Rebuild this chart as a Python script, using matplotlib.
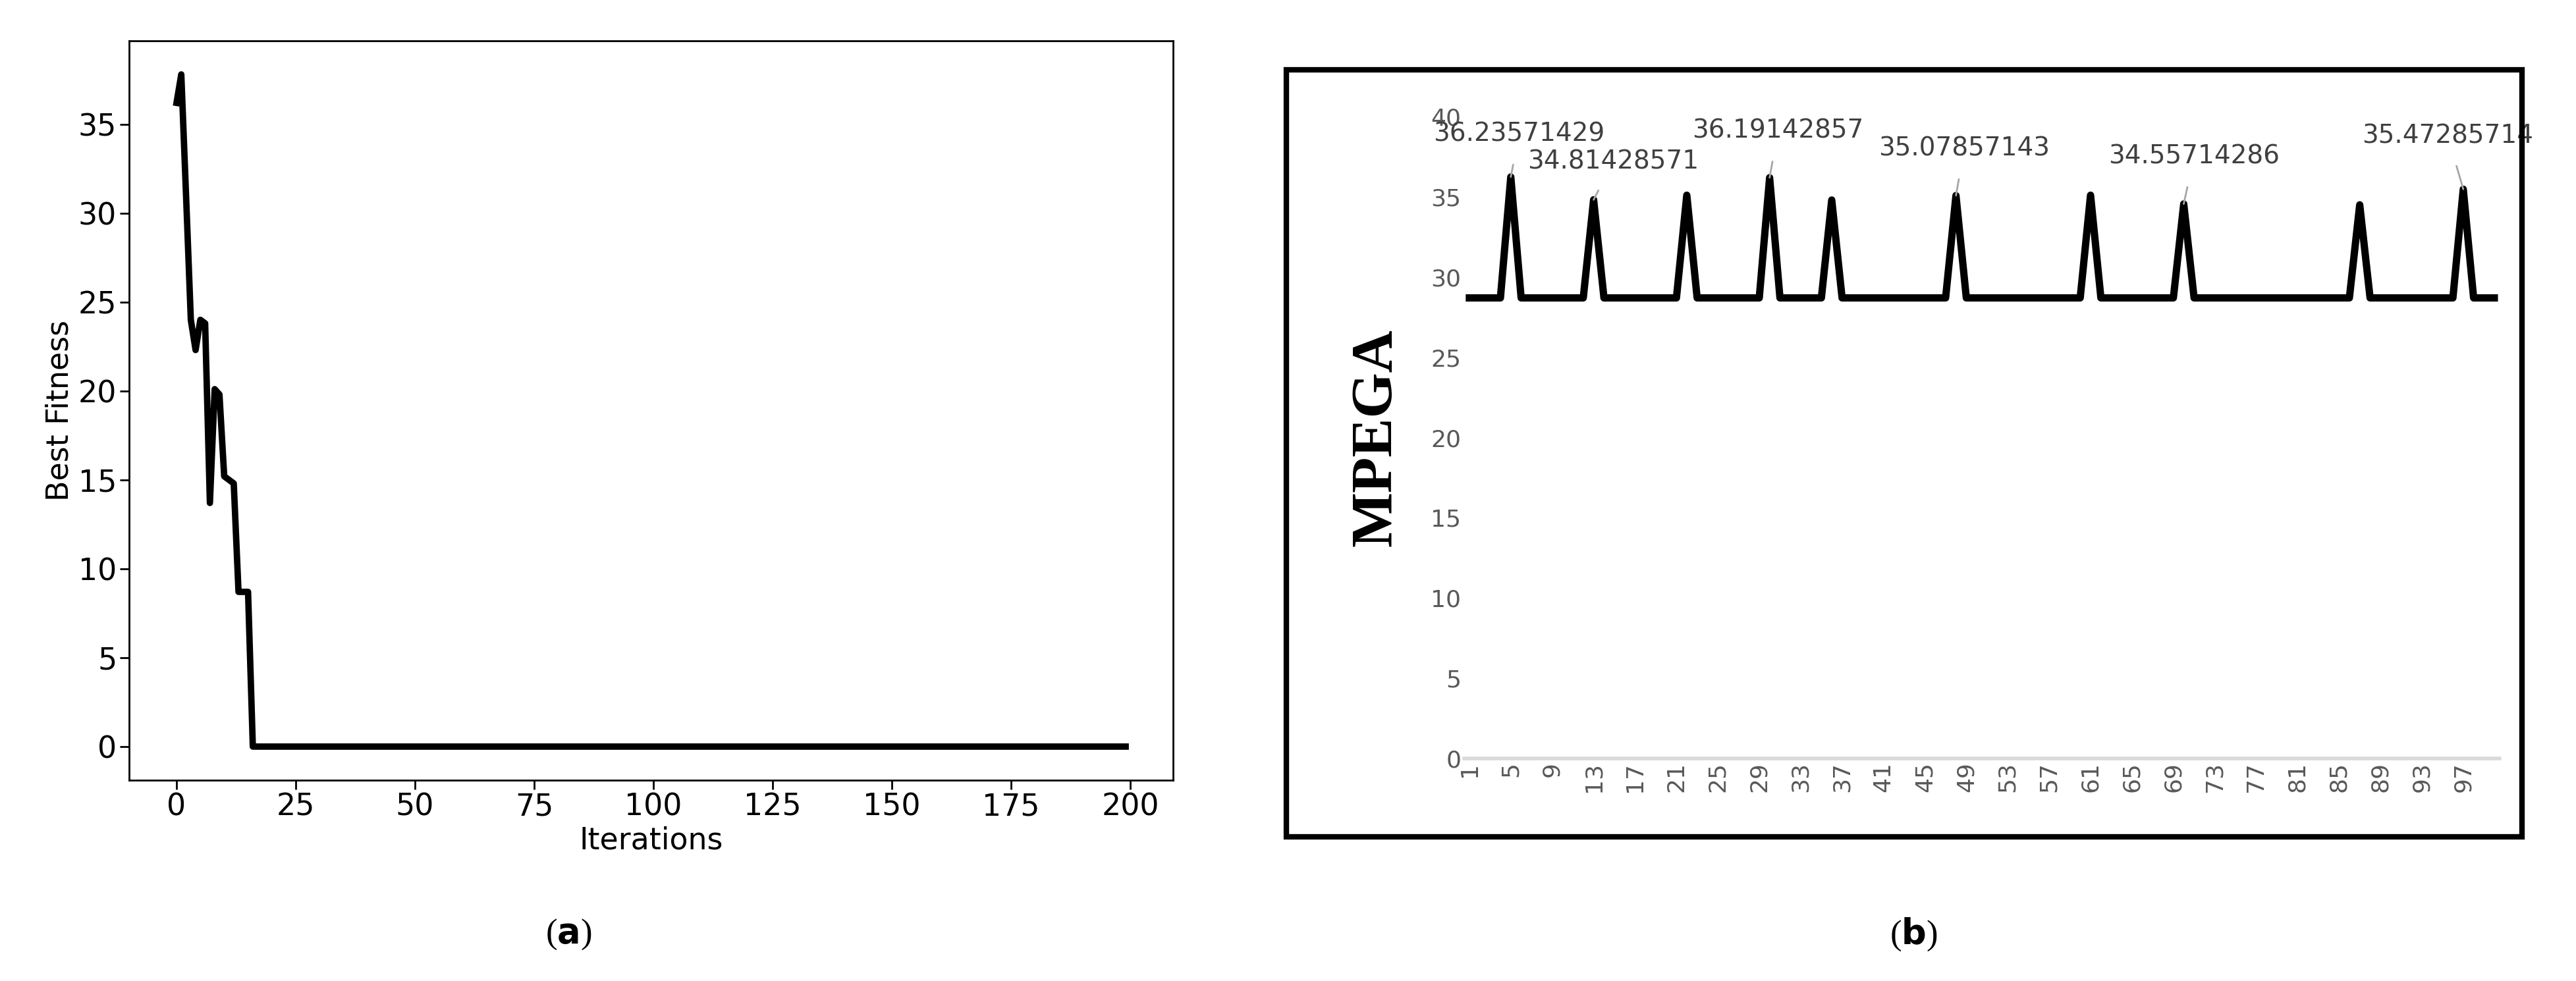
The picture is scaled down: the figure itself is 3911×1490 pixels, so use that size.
import matplotlib.pyplot as plt
import numpy as np
from matplotlib.patches import Rectangle

# panel (a): best fitness per iteration
fit_head = [36.2, 37.8, 31.0, 24.0, 22.3, 24.0, 23.8, 13.7, 20.1, 19.8,
            15.2, 15.0, 14.8, 8.7, 8.7, 8.7]
n_iter = 200
fitness = np.zeros(n_iter)
fitness[:len(fit_head)] = fit_head
iters = np.arange(n_iter)

# panel (b): MPEGA values over 100 runs
n_runs = 100
base_val = 28.7
peak_runs = [5, 13, 22, 30, 36, 48, 61, 70, 87, 97]
peak_vals = [36.23571429, 34.81428571, 35.1, 36.19142857, 34.8,
             35.07857143, 35.1, 34.55714286, 34.5, 35.47285714]
peak_text = {0: "36.23571429", 1: "34.81428571", 3: "36.19142857",
             5: "35.07857143", 7: "34.55714286", 9: "35.47285714"}
label_pos = [(5.8, 38.9), (14.9, 37.2), (30.8, 39.1), (48.8, 38.0), (71.0, 37.5), (95.5, 38.8)]
runs = np.arange(1, n_runs + 1)
mpega = np.full(n_runs, base_val)
for r, v in zip(peak_runs, peak_vals):
    mpega[r - 1] = v

fig = plt.figure(figsize=(39.11, 14.90), dpi=100)

ax1 = fig.add_axes([0.0501, 0.2047, 0.4053, 0.7537])
ax1.plot(iters, fitness, color="black", linewidth=7)
ax1.set_xticks([0, 25, 50, 75, 100, 125, 150, 175, 200])
ax1.set_yticks([0, 5, 10, 15, 20, 25, 30, 35])
ax1.tick_params(labelsize=33, length=10, width=2)
for s in ax1.spines.values():
    s.set_linewidth(2)
ax1.set_xlabel("Iterations", fontsize=33)
ax1.set_ylabel("Best Fitness", fontsize=33)

ax2 = fig.add_axes([0.5684, 0.2268, 0.4019, 0.6544])
ax2.plot(runs, mpega, color="black", linewidth=8, solid_joinstyle="round")
ax2.set_xlim(0.5, 100.5)
ax2.set_ylim(0, 40)
ax2.set_yticks(range(0, 41, 5))
ax2.set_xticks(runs[::4])
ax2.set_xticklabels([str(r) for r in runs[::4]], rotation=90)
ax2.tick_params(axis="both", labelsize=26, colors="#595959", length=0)
for name in ["top", "right", "left"]:
    ax2.spines[name].set_visible(False)
ax2.spines["bottom"].set_color("#d9d9d9")
ax2.spines["bottom"].set_linewidth(4)
ax2.set_ylabel("MPEGA", fontsize=64, fontweight="bold", family="Liberation Serif", labelpad=30)
for (i, txt), (lx, ly) in zip(peak_text.items(), label_pos):
    ax2.annotate(txt, xy=(peak_runs[i], peak_vals[i]), xytext=(lx, ly),
                 ha="center", va="center", fontsize=28, color="#404040",
                 arrowprops=dict(arrowstyle="-", color="#a6a6a6", lw=2, shrinkA=18, shrinkB=0))

fig.add_artist(Rectangle((1953 / 3911, 1 - 1271 / 1490), 1876 / 3911, 1165 / 1490,
                         transform=fig.transFigure, fill=False, edgecolor="black", linewidth=6))

fig.text(863 / 3911, 1 - 1419 / 1490, r"($\mathbf{a}$)", fontsize=38, ha="center", va="center",
         family="Liberation Serif")
fig.text(2905 / 3911, 1 - 1419 / 1490, r"($\mathbf{b}$)", fontsize=38, ha="center", va="center",
         family="Liberation Serif")

fig.savefig("out.png", dpi=100)
